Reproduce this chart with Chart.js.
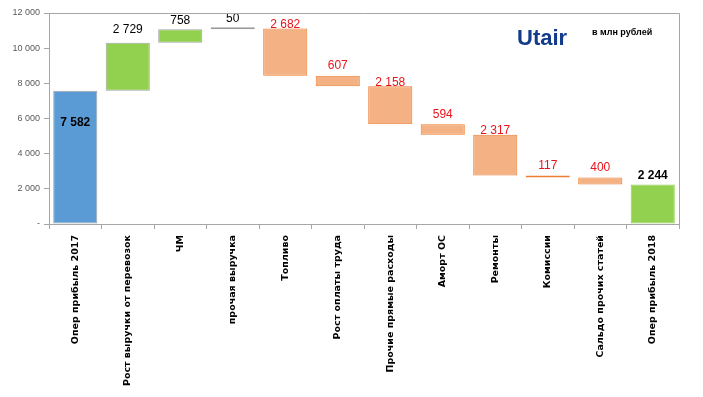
<!DOCTYPE html>
<html><head><meta charset="utf-8">
<script src="https://cdn.jsdelivr.net/npm/chart.js@4"></script>
<style>html,body{margin:0;padding:0;background:#fff;}#wrap{position:relative;width:703px;height:397px;}</style>
</head><body><div id="wrap"><canvas id="c" width="703" height="397"></canvas></div>
<script>
const categories = ["Опер прибыль 2017","Рост выручки от перевозок","ЧМ","прочая выручка","Топливо","Рост оплаты труда","Прочие прямые расходы","Аморт ОС","Ремонты","Комиссии","Сальдо прочих статей","Опер прибыль 2018"];
const changes = [7582, 2729, 758, 50, -2682, -607, -2158, -594, -2317, -117, -400, 2244];
const kinds = ["total","up","up","up","down","down","down","down","down","down","down","total"];
const yTicks = [0, 2000, 4000, 6000, 8000, 10000, 12000];

const ranges = [];
let run = 0;
changes.forEach((v, i) => {
  if (kinds[i] === "total") { ranges.push([0, v]); run = v; }
  else { ranges.push([run, run + v]); run += v; }
});
const fill = changes.map((v,i)=> i===0 ? "#5B9BD5" : kinds[i]==="total" ? "#92D050" : kinds[i]==="up" ? (Math.abs(v)<100 ? "#A5A5A5" : "#92D050") : "#F4B183");
const border = changes.map((v,i)=> kinds[i]==="down" ? "#ED7D31" : (i===11 ? "#92D050" : (Math.abs(v)<100 ? "#9A9A9A" : "#A5A5A5")));
const fmt = n => String(Math.abs(n)).replace(/\B(?=(\d{3})+(?!\d))/g, " ");

const labelPlugin = {
  id: "labels",
  afterDatasetsDraw(chart) {
    const ctx = chart.ctx;
    const meta = chart.getDatasetMeta(0);
    ctx.save();
    ctx.textAlign = "center";
    ctx.textBaseline = "middle";
    meta.data.forEach((bar, i) => {
      const v = changes[i];
      const top = Math.min(bar.y, bar.base);
      let y;
      if (i === 0) {
        ctx.font = "bold 12px 'Liberation Sans', Arial";
        ctx.fillStyle = "#000";
        y = top + 32;
      } else if (kinds[i] === "down") {
        ctx.font = "12px 'Liberation Sans', Arial";
        ctx.fillStyle = "#E8131B";
        y = Math.abs(v) >= 1000 ? top - 4 : top - 10;
      } else {
        ctx.font = (i === 11 ? "bold " : "") + "12px 'Liberation Sans', Arial";
        ctx.fillStyle = "#000";
        y = Math.abs(v) >= 1000 && i !== 11 ? top - 13 : top - 9;
      }
      ctx.fillText(fmt(v), bar.x, y);
    });
    const a = chart.chartArea;
    ctx.strokeStyle = "#A6A6A6";
    ctx.lineWidth = 1;
    ctx.beginPath();
    ctx.moveTo(a.left, a.top + 0.5);
    ctx.lineTo(a.right + 0.5, a.top + 0.5);
    ctx.lineTo(a.right + 0.5, a.bottom + 5);
    ctx.stroke();
    ctx.textAlign = "left";
    ctx.fillStyle = "#123B8C";
    ctx.font = "bold 22px 'Liberation Sans', Arial";
    ctx.fillText("Utair", 517, 39);
    ctx.fillStyle = "#000";
    ctx.font = "bold 9px 'Liberation Sans', Arial";
    ctx.fillText("в млн рублей", 592, 33);
    ctx.restore();
  }
};

new Chart(document.getElementById("c"), {
  type: "bar",
  data: {
    labels: categories,
    datasets: [{
      data: ranges,
      backgroundColor: fill,
      borderColor: border,
      borderWidth: 1,
      borderSkipped: false,
      minBarLength: 2,
      barPercentage: 0.84,
      categoryPercentage: 1
    }]
  },
  options: {
    responsive: false,
    animation: false,
    layout: { padding: { top: 13, right: 24, left: 0, bottom: 0 } },
    plugins: { legend: { display: false }, tooltip: { enabled: false } },
    scales: {
      x: {
        offset: true,
        grid: { display: true, drawOnChartArea: false, offset: true, tickLength: 5, color: "#A6A6A6" },
        border: { display: true, color: "#A6A6A6" },
        ticks: { color: "#000", font: { family: "'DejaVu Sans'", size: 9.5, weight: "bold" }, maxRotation: 90, minRotation: 90, autoSkip: false, padding: 6 },
        afterFit(s) { s.height = 173; }
      },
      y: {
        min: 0, max: 12000,
        afterBuildTicks(s) { s.ticks = yTicks.map(v => ({ value: v })); },
        grid: { display: true, drawOnChartArea: false, tickLength: 5, color: "#A6A6A6" },
        border: { display: true, color: "#A6A6A6" },
        ticks: { color: "#595959", font: { family: "'Liberation Sans', Arial", size: 9 }, padding: 4,
          callback: v => v === 0 ? "-" : fmt(v) },
        afterFit(s) { s.width = 49; }
      }
    }
  },
  plugins: [labelPlugin]
});
</script></body></html>
